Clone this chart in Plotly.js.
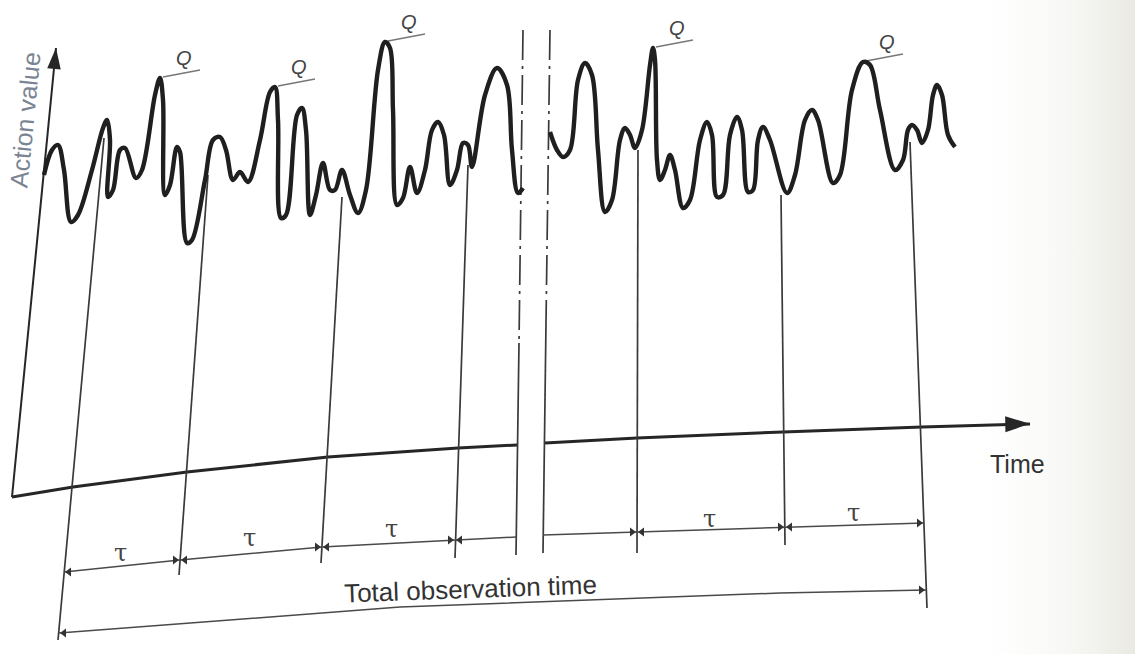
<!DOCTYPE html>
<html>
<head>
<meta charset="utf-8">
<script src="https://cdn.plot.ly/plotly-3.0.1.min.js"></script>
<style>
  html, body { margin: 0; padding: 0; background: #ffffff; }
  #chart { width: 1135px; height: 654px; }
</style>
</head>
<body>
<div id="chart"></div>
<script>
// Recorded action value before the break in the time axis (time, level)
const waveA_t = [44, 52, 58, 64, 71, 78, 92, 103, 107, 110, 108, 113, 120, 125, 136, 142, 155, 160, 163, 165,
  170, 177, 180, 187, 192, 205, 213, 220, 226, 233, 240, 248, 260, 270, 275, 278, 281, 286, 297, 302,
  306, 310, 316, 323, 330, 335, 342, 350, 358, 366, 378, 385, 390, 393, 397, 403, 410, 417, 425, 432,
  438, 444, 450, 457, 463, 468, 472, 485, 497, 507, 512, 518, 523];
const waveA_v = [175, 150, 145, 170, 222, 215, 170, 128, 120, 140, 197, 190, 150, 148, 178, 170, 95, 78, 100, 195,
  185, 147, 152, 243, 240, 180, 140, 137, 150, 180, 172, 182, 140, 92, 87, 120, 218, 215, 115, 108,
  130, 215, 195, 163, 190, 190, 170, 195, 213, 190, 70, 42, 48, 110, 205, 198, 167, 193, 170, 130,
  122, 135, 185, 170, 143, 145, 167, 95, 68, 85, 150, 193, 188];

// Recorded action value after the break
const waveB_t = [550, 557, 563, 570, 578, 585, 592, 598, 605, 612, 620, 625, 630, 635, 642, 650, 653, 655, 657, 660,
  665, 670, 675, 683, 690, 700, 707, 712, 717, 723, 730, 737, 742, 748, 753, 758, 763, 770, 787, 795,
  805, 812, 818, 833, 840, 852, 863, 870, 880, 895, 903, 908, 912, 917, 922, 928, 933, 937, 942, 948, 955];
const waveB_v = [132, 150, 157, 150, 80, 63, 75, 150, 212, 200, 140, 128, 135, 148, 130, 65, 48, 60, 160, 180,
  170, 155, 170, 208, 200, 140, 122, 135, 197, 195, 135, 117, 130, 192, 190, 140, 127, 140, 193, 175,
  120, 110, 120, 183, 175, 90, 62, 65, 110, 170, 160, 130, 125, 130, 143, 130, 95, 85, 95, 135, 147];

// Peaks labelled Q
const qPeak_t = [160, 275, 385, 653, 863];
const qPeak_v = [78, 87, 42, 48, 62];

// Interval markers: point on the curve and foot below the time axis
const markTop_t = [104, 208, 342, 468, 638, 781, 910];
const markTop_v = [138, 175, 197, 165, 150, 195, 142];
const markFoot_t = [58, 179, 321, 455, 637, 785, 927];
const markFoot_v = [640, 575, 563, 558, 553, 545, 608];

// Time axis (perspective curve), split by the break
const timeAxisA_t = [12, 73, 187, 328, 400, 458, 517];
const timeAxisA_v = [497, 487, 472, 457, 452, 448, 445];
const timeAxisB_t = [545, 637, 783, 922, 1030];
const timeAxisB_v = [443, 438, 432, 427, 424];

// Action-value axis
const valueAxis_t = [12, 56];
const valueAxis_v = [497, 48];

// Break lines in the time axis
const breakL_t = [523, 519, 516];
const breakL_v = [30, 343, 555];
const breakR_t = [550, 546, 543];
const breakR_v = [30, 323, 553];

// Interval dimension line (τ) and total observation time line
const tauRowA_t = [64, 180, 322, 455, 516];
const tauRowA_v = [572, 560, 547, 540, 537];
const tauRowB_t = [543, 637, 785, 924];
const tauRowB_v = [535, 532, 527, 523];
const total_t = [59, 400, 780, 926];
const total_v = [633, 607, 593, 590];

// τ label positions
const tauLabel_t = [120, 249, 391, 709, 853];
const tauLabel_v = [553, 538, 529, 519, 513];

const INK = '#262626';
const THIN = '#3a3a3a';
const sans = '"Liberation Sans", Arial, Helvetica, sans-serif';

const traces = [];

// faint paper tone toward the right edge
traces.push({
  x: [960, 1135, 1135, 960], y: [0, 0, 654, 654],
  mode: 'none', fill: 'toself', hoverinfo: 'skip', showlegend: false,
  fillgradient: { type: 'horizontal', start: 960, stop: 1135,
    colorscale: [[0, 'rgba(255,255,255,0)'], [1, 'rgba(234,234,227,1)']] }
});

function line(xs, ys, color, width, dash) {
  traces.push({ x: xs, y: ys, mode: 'lines', hoverinfo: 'skip', showlegend: false,
    line: { color: color, width: width, dash: dash || 'solid' } });
}

// axes
line(valueAxis_t, valueAxis_v, INK, 2);
line(timeAxisA_t, timeAxisA_v, INK, 3);
line(timeAxisB_t, timeAxisB_v, INK, 3);

// interval markers
for (let i = 0; i < markTop_t.length; i++) {
  line([markTop_t[i], markFoot_t[i]], [markTop_v[i], markFoot_v[i]], THIN, 1.7);
}

// break lines: dash-dot upper part, solid lower part
line(breakL_t.slice(0, 2), breakL_v.slice(0, 2), THIN, 1.7, '30px,6px,3px,6px');
line(breakL_t.slice(1), breakL_v.slice(1), THIN, 1.7);
line(breakR_t.slice(0, 2), breakR_v.slice(0, 2), THIN, 1.7, '30px,6px,3px,6px');
line(breakR_t.slice(1), breakR_v.slice(1), THIN, 1.7);

// dimension lines
line(tauRowA_t, tauRowA_v, '#4a4a4a', 1.5);
line(tauRowB_t, tauRowB_v, '#4a4a4a', 1.5);
line(total_t, total_v, '#4a4a4a', 1.5);

// Q reference ticks
for (let i = 0; i < qPeak_t.length; i++) {
  line([qPeak_t[i] + 3, qPeak_t[i] + 40], [qPeak_v[i] - 1, qPeak_v[i] - 8], '#777777', 1.3);
}

// the action-value curve
[[waveA_t, waveA_v], [waveB_t, waveB_v]].forEach(function (w) {
  traces.push({ x: w[0], y: w[1], mode: 'lines', hoverinfo: 'skip', showlegend: false,
    line: { color: '#1f1f1f', width: 4.4, shape: 'spline', smoothing: 1 } });
});

// arrowheads on the dimension lines, tips touching the markers
const ah = { lx: [], ly: [], rx: [], ry: [] };
function tipRight(x, y) { ah.rx.push(x - 5); ah.ry.push(y); }
function tipLeft(x, y) { ah.lx.push(x + 5); ah.ly.push(y); }
tipLeft(tauRowA_t[0], tauRowA_v[0]);
for (let i = 1; i < 4; i++) { tipRight(tauRowA_t[i], tauRowA_v[i]); tipLeft(tauRowA_t[i], tauRowA_v[i]); }
tipRight(tauRowB_t[1], tauRowB_v[1]); tipLeft(tauRowB_t[1], tauRowB_v[1]);
tipRight(tauRowB_t[2], tauRowB_v[2]); tipLeft(tauRowB_t[2], tauRowB_v[2]);
tipRight(tauRowB_t[3], tauRowB_v[3]);
tipLeft(total_t[0], total_v[0]);
tipRight(total_t[3], total_v[3]);
traces.push({ x: ah.rx, y: ah.ry, mode: 'markers', hoverinfo: 'skip', showlegend: false,
  marker: { symbol: 'triangle-right', size: 8, color: '#333333' } });
traces.push({ x: ah.lx, y: ah.ly, mode: 'markers', hoverinfo: 'skip', showlegend: false,
  marker: { symbol: 'triangle-left', size: 8, color: '#333333' } });

// axis arrowheads (narrow, elongated), tips at the ends of the axes
traces.push({ x: [timeAxisB_t[timeAxisB_t.length - 1]], y: [timeAxisB_v[timeAxisB_v.length - 1] - 0.2],
  mode: 'markers', hoverinfo: 'skip', showlegend: false,
  marker: { symbol: 'arrow', size: 26, color: INK, angle: 89 } });
traces.push({ x: [valueAxis_t[1]], y: [valueAxis_v[1]],
  mode: 'markers', hoverinfo: 'skip', showlegend: false,
  marker: { symbol: 'arrow', size: 22, color: INK, angle: 5.6 } });

// labels
const annotations = [];
for (let i = 0; i < qPeak_t.length; i++) {
  annotations.push({ x: qPeak_t[i] + 24, y: qPeak_v[i] - 20, text: '<i>Q</i>', showarrow: false,
    font: { family: sans, size: 20, color: '#444444' } });
}
for (let i = 0; i < tauLabel_t.length; i++) {
  annotations.push({ x: tauLabel_t[i], y: tauLabel_v[i], text: 'τ', showarrow: false,
    font: { family: '"DejaVu Serif", "Liberation Serif", serif', size: 24, color: '#444444' } });
}
annotations.push({ x: 1017, y: 464, text: 'Time', showarrow: false,
  font: { family: sans, size: 25, color: '#333333' } });
annotations.push({ x: 470, y: 589, text: 'Total observation time', showarrow: false, textangle: -2,
  font: { family: sans, size: 26, color: '#333333' } });
annotations.push({ x: 25, y: 120, text: 'Action value', showarrow: false, textangle: -84.4,
  font: { family: sans, size: 25, color: '#7a8492' } });

const layout = {
  width: 1135, height: 654,
  margin: { l: 0, r: 0, t: 0, b: 0 },
  paper_bgcolor: '#ffffff', plot_bgcolor: '#ffffff',
  showlegend: false,
  xaxis: { range: [0, 1135], visible: false, fixedrange: true },
  yaxis: { range: [654, 0], visible: false, fixedrange: true },
  annotations: annotations
};

Plotly.newPlot('chart', traces, layout, { staticPlot: true, displayModeBar: false });
</script>
</body>
</html>
